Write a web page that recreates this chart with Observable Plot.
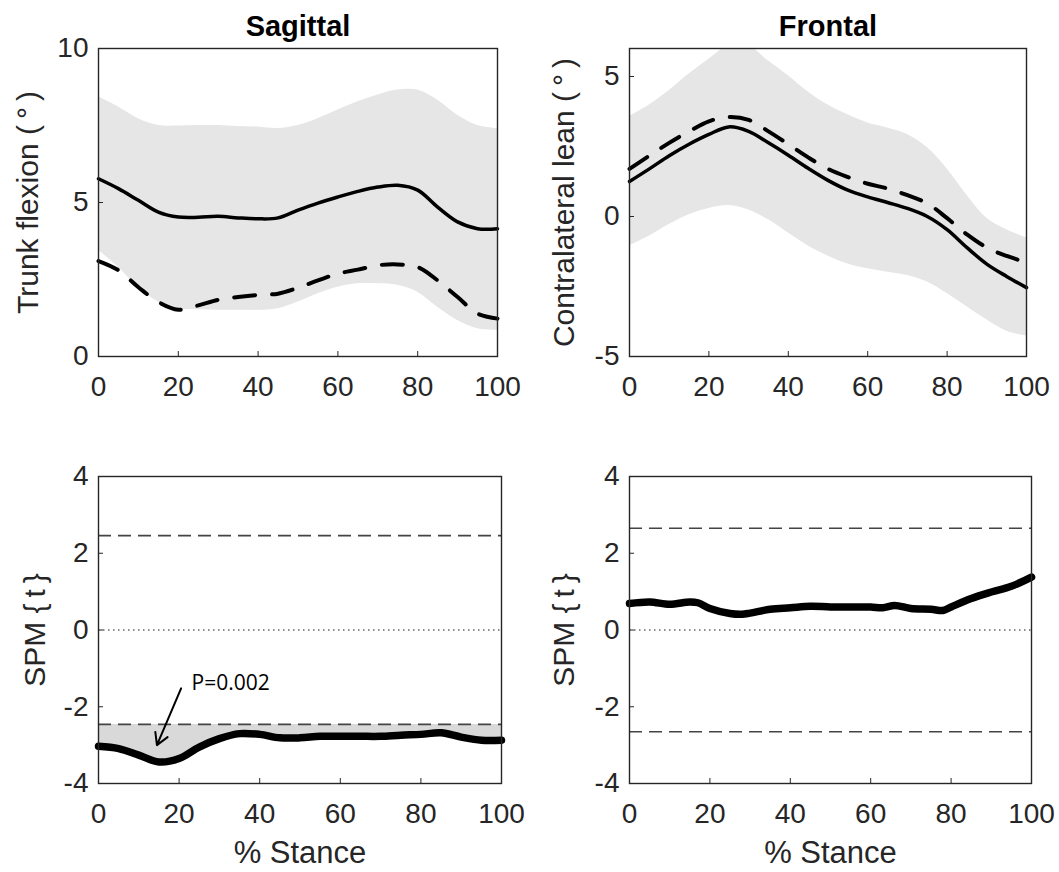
<!DOCTYPE html>
<html><head><meta charset="utf-8">
<script src="https://cdn.jsdelivr.net/npm/d3@7"></script>
<script src="https://cdn.jsdelivr.net/npm/@observablehq/plot@0.6"></script>
<style>
body{margin:0;background:#fff;}
#wrap{position:relative;width:1059px;height:872px;overflow:hidden;background:#fff;}
#wrap > svg{position:absolute;overflow:visible;}
</style></head><body><div id="wrap"></div>
<script>
// ---------- data ----------
const stance = [0,5,10,15,20,25,30,35,40,45,50,55,60,65,70,75,80,85,90,95,100];
const xTicks = [0,20,40,60,80,100];

const sagSolid  = [5.77,5.45,5.07,4.69,4.53,4.52,4.55,4.50,4.47,4.50,4.75,4.98,5.18,5.36,5.50,5.56,5.40,4.85,4.37,4.15,4.15];
const sagDashed = [3.10,2.80,2.25,1.77,1.52,1.66,1.84,1.93,2.00,2.04,2.23,2.47,2.69,2.82,2.96,2.99,2.90,2.47,1.93,1.39,1.23];
const sagUpper  = [8.43,8.10,7.72,7.50,7.48,7.50,7.50,7.47,7.45,7.40,7.50,7.72,8.00,8.27,8.49,8.65,8.65,8.32,7.83,7.50,7.40];
const sagLower  = [3.45,2.90,2.25,1.77,1.55,1.52,1.50,1.50,1.50,1.55,1.77,2.04,2.25,2.36,2.36,2.31,2.09,1.60,1.17,0.90,0.85];

const froSolid  = [1.25,1.70,2.17,2.58,2.93,3.20,3.04,2.63,2.19,1.72,1.29,0.94,0.70,0.50,0.29,0.00,-0.47,-1.11,-1.70,-2.14,-2.54];
const froDashed = [1.70,2.17,2.63,3.04,3.40,3.55,3.45,3.04,2.58,2.11,1.70,1.41,1.17,1.00,0.76,0.47,-0.06,-0.64,-1.11,-1.41,-1.64];
const froUpper  = [3.57,3.98,4.50,5.09,5.62,6.10,6.10,5.55,5.03,4.45,3.98,3.63,3.34,3.16,2.93,2.46,1.70,0.76,-0.06,-0.47,-0.76];
const froLower  = [-1.05,-0.70,-0.29,0.06,0.29,0.39,0.23,-0.12,-0.59,-1.05,-1.41,-1.70,-1.87,-1.99,-2.11,-2.34,-2.75,-3.22,-3.69,-4.10,-4.27];

const spmSag    = [-3.03,-3.09,-3.26,-3.44,-3.35,-3.05,-2.83,-2.70,-2.72,-2.81,-2.81,-2.77,-2.77,-2.77,-2.77,-2.74,-2.72,-2.68,-2.79,-2.87,-2.87];
const spmSagThreshold = 2.46;

const spmFroX   = [0,5,10,15,17,20,25,28,30,35,40,45,50,55,60,63,66,70,75,78,80,85,90,95,100];
const spmFro    = [0.69,0.73,0.67,0.73,0.71,0.56,0.43,0.41,0.44,0.54,0.58,0.62,0.60,0.60,0.60,0.58,0.64,0.56,0.54,0.51,0.60,0.82,0.99,1.14,1.38];
const spmFroThreshold = 2.65;

const annotation = [{x1: 20.5, y1: -1.52, x2: 14.5, y2: -3.0, tx: 23.1, ty: -1.38, label: "P=0.002"}];

const titles = ["Sagittal", "Frontal"];
const yLabels = ["Trunk flexion (\u2009°\u2009)", "Contralateral lean (\u2009°\u2009)", "SPM {\u2009t\u2009}"];
const xLabel = "% Stance";

// ---------- build tables ----------
const sagT = stance.map((x,i)=>({x, solid: sagSolid[i], dashed: sagDashed[i], lo: sagLower[i], hi: sagUpper[i]}));
const froT = stance.map((x,i)=>({x, solid: froSolid[i], dashed: froDashed[i], lo: froLower[i], hi: froUpper[i]}));
const spmSagT = stance.map((x,i)=>({x, t: spmSag[i]}));
const spmFroT = spmFroX.map((x,i)=>({x, t: spmFro[i]}));

const FONT = "'Liberation Sans', Arial, Helvetica, sans-serif";
const INK = "#262626";
const wrap = document.getElementById("wrap");
const fmt = d => String(d);

function panel(cfg) {
  const fw = cfg.width - cfg.ml - cfg.mr;
  const fh = cfg.height - cfg.mt - cfg.mb;
  const marks = [
    ...cfg.marks,
    Plot.frame({stroke: INK, strokeWidth: 1.4}),
    Plot.tickX(xTicks, {x: d => d, insetTop: fh - 5, stroke: INK}),
    Plot.tickY(cfg.yTicks, {y: d => d, insetRight: fw - 5, stroke: INK}),
    Plot.axisX(xTicks, {tickSize: 0, tickPadding: 20, fontSize: 28, fill: INK, tickFormat: fmt, label: null}),
    Plot.axisY(cfg.yTicks, {tickSize: 0, tickPadding: 10, fontSize: 28, fill: INK, tickFormat: fmt, label: null}),
    Plot.text([cfg.yLabel], {text: d => d, frameAnchor: "left", rotate: -90, dx: -cfg.ylo, lineAnchor: "top",
      textAnchor: "middle", fontSize: 30, fill: INK})
  ];
  if (cfg.xLabel) marks.push(Plot.text([cfg.xLabel], {text: d => d, frameAnchor: "bottom", dy: cfg.xlo,
    lineAnchor: "bottom", fontSize: 31, fill: INK}));
  if (cfg.title) marks.push(Plot.text([cfg.title], {text: d => d, frameAnchor: "top", lineAnchor: "bottom", dy: -13,
    fontSize: 29, fontWeight: "bold", fill: "#000"}));
  const svg = Plot.plot({
    width: cfg.width, height: cfg.height,
    marginLeft: cfg.ml, marginRight: cfg.mr, marginTop: cfg.mt, marginBottom: cfg.mb,
    style: {fontFamily: FONT, fontSize: "28px", color: INK, background: "transparent", overflow: "visible"},
    x: {domain: [0, 100]},
    y: {domain: cfg.yDomain},
    marks
  });
  svg.style.left = cfg.left + "px";
  svg.style.top = cfg.top + "px";
  wrap.appendChild(svg);
}

// Sagittal kinematics
panel({
  left: 0, top: 0, width: 529, height: 420, ml: 98, mr: 32, mt: 48, mb: 64,
  yDomain: [0, 10], yTicks: [0, 5, 10], yLabel: yLabels[0], ylo: 82, title: titles[0],
  marks: [
    Plot.areaY(sagT, {x: "x", y1: "lo", y2: "hi", fill: "#e6e6e6", curve: "catmull-rom", clip: true}),
    Plot.line(sagT, {x: "x", y: "solid", stroke: "#000", strokeWidth: 3.5, curve: "catmull-rom"}),
    Plot.line(sagT, {x: "x", y: "dashed", stroke: "#000", strokeWidth: 4, strokeDasharray: "21,17", curve: "catmull-rom"})
  ]
});

// Frontal kinematics
panel({
  left: 529, top: 0, width: 530, height: 420, ml: 100, mr: 33, mt: 48, mb: 64,
  yDomain: [-5, 6], yTicks: [-5, 0, 5], yLabel: yLabels[1], ylo: 77, title: titles[1],
  marks: [
    Plot.areaY(froT, {x: "x", y1: "lo", y2: "hi", fill: "#e6e6e6", curve: "catmull-rom", clip: true}),
    Plot.line(froT, {x: "x", y: "solid", stroke: "#000", strokeWidth: 3.5, curve: "catmull-rom"}),
    Plot.line(froT, {x: "x", y: "dashed", stroke: "#000", strokeWidth: 4, strokeDasharray: "21,17", curve: "catmull-rom"})
  ]
});

// Sagittal SPM
panel({
  left: 0, top: 430, width: 529, height: 442, ml: 98, mr: 28, mt: 46, mb: 89,
  yDomain: [-4, 4], yTicks: [-4, -2, 0, 2, 4], yLabel: yLabels[2], ylo: 75,
  xLabel: xLabel, xlo: 79,
  marks: [
    Plot.areaY(spmSagT, {x: "x", y1: -spmSagThreshold, y2: "t", fill: "#d9d9d9", curve: "catmull-rom"}),
    Plot.ruleY([0], {stroke: "#666", strokeWidth: 1.3, strokeDasharray: "1.5,3.5"}),
    Plot.ruleY([spmSagThreshold, -spmSagThreshold], {stroke: "#444", strokeWidth: 1.6, strokeDasharray: "13,7"}),
    Plot.line(spmSagT, {x: "x", y: "t", stroke: "#000", strokeWidth: 7.5, curve: "catmull-rom"}),
    Plot.arrow(annotation, {x1: "x1", y1: "y1", x2: "x2", y2: "y2", stroke: "#000", strokeWidth: 2, headLength: 10}),
    Plot.text(annotation, {x: "tx", y: "ty", text: "label", textAnchor: "start", fontSize: 21, fontFamily: "'Open Sans', 'Noto Sans', sans-serif", fill: "#000"})
  ]
});

// Frontal SPM
panel({
  left: 529, top: 430, width: 530, height: 442, ml: 100, mr: 28, mt: 46, mb: 89,
  yDomain: [-4, 4], yTicks: [-4, -2, 0, 2, 4], yLabel: yLabels[2], ylo: 77,
  xLabel: xLabel, xlo: 79,
  marks: [
    Plot.ruleY([0], {stroke: "#666", strokeWidth: 1.3, strokeDasharray: "1.5,3.5"}),
    Plot.ruleY([spmFroThreshold, -spmFroThreshold], {stroke: "#444", strokeWidth: 1.6, strokeDasharray: "13,7"}),
    Plot.line(spmFroT, {x: "x", y: "t", stroke: "#000", strokeWidth: 7.5, curve: "catmull-rom"})
  ]
});
</script></body></html>
